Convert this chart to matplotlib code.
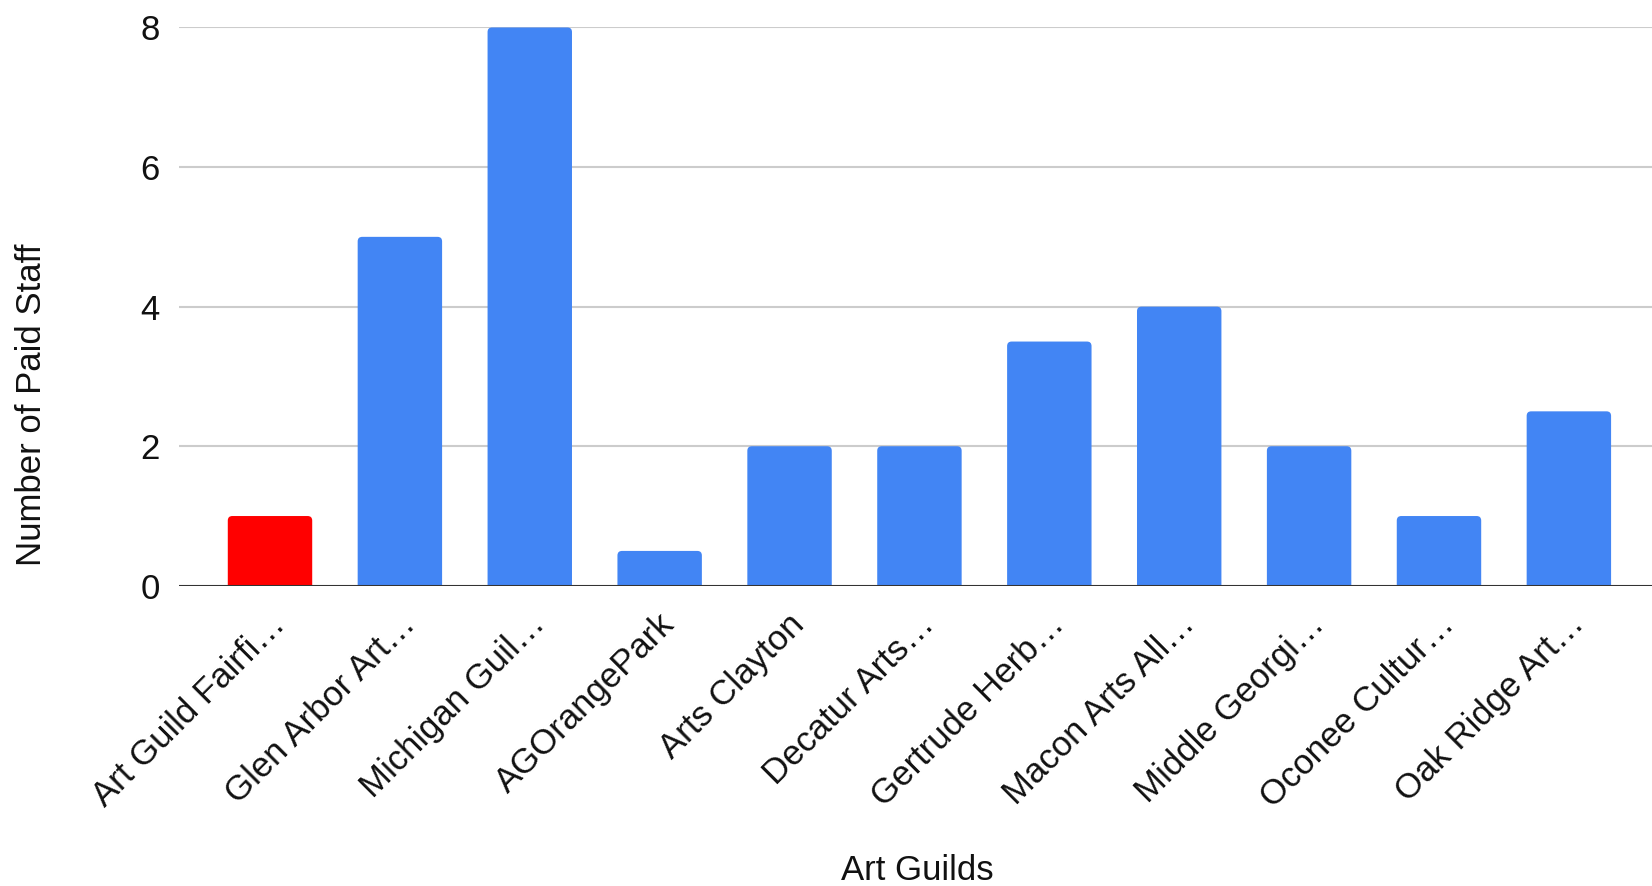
import matplotlib
matplotlib.use("Agg")
import matplotlib.pyplot as plt
from matplotlib.patches import FancyBboxPatch
from matplotlib.transforms import ScaledTranslation

# Paid staff per art guild
guilds = ["Art Guild Fairfi…", "Glen Arbor Art…", "Michigan Guil…", "AGOrangePark",
          "Arts Clayton", "Decatur Arts…", "Gertrude Herb…", "Macon Arts All…",
          "Middle Georgi…", "Oconee Cultur…", "Oak Ridge Art…"]
staff = [1, 5, 8, 0.5, 2, 2, 3.5, 4, 2, 1, 2.5]
bar_colors = ["#ff0000"] + ["#4285f4"] * (len(guilds) - 1)
y_ticks = [0, 2, 4, 6, 8]

plt.rcParams["font.family"] = ["Liberation Sans", "DejaVu Sans"]

fig = plt.figure(figsize=(16.52, 8.86), dpi=100)
ax = fig.add_axes([0.1084, 0.3388, 0.8916, 0.6302])

x = list(range(len(guilds)))
bars = ax.bar(x, staff, width=0.65, color=bar_colors, zorder=3)

ax.set_xlim(-0.7, 10.64)
ax.set_ylim(0, 8)

# swap the plain rectangles for slightly rounded ones (google sheets look)
for rect in bars:
    rect.set_visible(False)
    rx, ry = rect.get_x(), rect.get_y()
    w, h = rect.get_width(), rect.get_height()
    ax.add_patch(FancyBboxPatch((rx, ry - 0.1), w, h + 0.1,
                                boxstyle="round,pad=0,rounding_size=0.035",
                                mutation_aspect=1.86, facecolor=rect.get_facecolor(),
                                edgecolor="none", zorder=3))

ax.set_yticks(y_ticks)
ax.yaxis.grid(True, color="#cccccc", linewidth=1.5, zorder=0)
ax.axhline(0, color="#333333", linewidth=2.2, zorder=4)

for s in ax.spines.values():
    s.set_visible(False)
ax.tick_params(axis="both", length=0, labelsize=25, colors="#111111")
ax.tick_params(axis="y", pad=14)

ax.set_xticks(x)
ax.set_xticklabels(guilds, rotation=45, ha="right", va="center",
                   rotation_mode="anchor", fontsize=25, color="#111111")
ax.tick_params(axis="x", pad=24)
shift = ScaledTranslation(10 / 100, 0, fig.dpi_scale_trans)
for lbl in ax.get_xticklabels():
    lbl.set_transform(lbl.get_transform() + shift)

fig.text(0.555, 0.018, "Art Guilds", ha="center", va="center", fontsize=25, color="#111111")
fig.text(0.019, 0.543, "Number of Paid Staff", rotation=90, ha="center", va="center",
         fontsize=25, color="#111111")

fig.savefig("out.png", dpi=100, facecolor="white")
